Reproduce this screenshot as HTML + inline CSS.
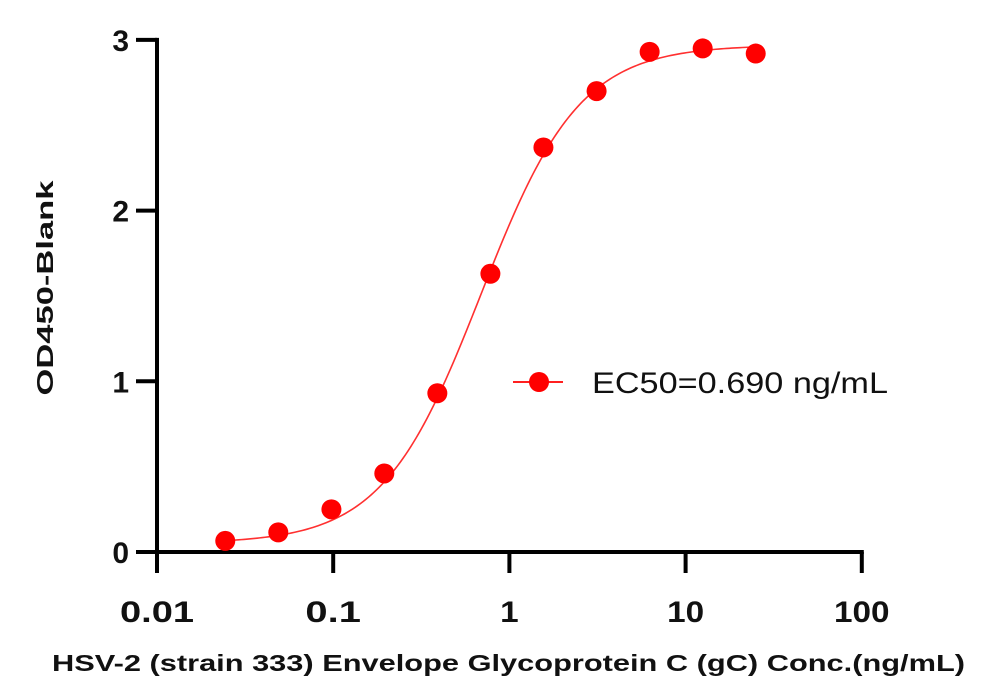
<!DOCTYPE html>
<html><head><meta charset="utf-8"><style>
html,body{margin:0;padding:0;background:#fff;}
svg{display:block;font-family:"Liberation Sans",Arial,sans-serif;}
</style></head><body>
<svg id="chart" width="1000" height="699" viewBox="0 0 1000 699">
<g id="axes"></g>
<g id="series"></g>
<g>
<line x1="513" y1="382" x2="563" y2="382" stroke="#ff2020" stroke-width="2"/>
<circle cx="539" cy="382" r="10" fill="#ff0000"/>
<text x="592" y="393" font-size="30" textLength="296" lengthAdjust="spacingAndGlyphs" fill="#111">EC50=0.690 ng/mL</text>
</g>
<text transform="translate(53,288) rotate(-90)" text-anchor="middle" font-size="23" font-weight="bold" textLength="215" lengthAdjust="spacingAndGlyphs" fill="#111">OD450-Blank</text>
<text x="52" y="671" font-size="23" font-weight="bold" textLength="913" lengthAdjust="spacingAndGlyphs" fill="#111">HSV-2 (strain 333) Envelope Glycoprotein C (gC) Conc.(ng/mL)</text>
</svg>
<script>
const concentrations=[0.0244,0.0488,0.0977,0.195,0.39,0.78,1.56,3.125,6.25,12.5,25];
const odValues=[0.065,0.115,0.25,0.46,0.93,1.63,2.37,2.70,2.93,2.95,2.92];
const xTicks=[0.01,0.1,1,10,100];
const xTickLabels=["0.01","0.1","1","10","100"];
const yTicks=[0,1,2,3];
const yTickLabels=["0","1","2","3"];
const fitBottom=0.05, fitTop=2.97, fitEC50=0.69, fitHill=1.55;

const NS="http://www.w3.org/2000/svg";
const X0=157, XD=176.2, Y0=552, YU=170.7;
function xs(v){return X0+XD*(Math.log10(v)+2);}
function ys(v){return Y0-YU*v;}
function mk(tag,attrs,parent){const e=document.createElementNS(NS,tag);for(const k in attrs)e.setAttribute(k,attrs[k]);parent.appendChild(e);return e;}
const axes=document.getElementById('axes');
let e=mk('line',{x1:136,y1:Y0,x2:xs(100)+2,y2:Y0,stroke:'#000','stroke-width':4},axes);


e=mk('line',{x1:X0,y1:ys(3)-2,x2:X0,y2:572,stroke:'#000','stroke-width':4},axes);


xTicks.forEach((t,i)=>{
  const x=xs(t);
  let l=mk('line',{x1:x,y1:Y0,x2:x,y2:573,stroke:'#000','stroke-width':4},axes);
  
  
  const w=xTickLabels[i].length*18.5;
  let tx=mk('text',{x:x,y:622,'text-anchor':'middle','font-size':30,'font-weight':'bold',fill:'#111',textLength:w,lengthAdjust:'spacingAndGlyphs'},axes);
  tx.textContent=xTickLabels[i];
  
  
});
yTicks.forEach((t,i)=>{
  const y=ys(t);
  let l=mk('line',{x1:136,y1:y,x2:X0,y2:y,stroke:'#000','stroke-width':4},axes);
  
  
  let tx=mk('text',{x:129,y:y+11,'text-anchor':'end','font-size':30,'font-weight':'bold',fill:'#111'},axes);
  tx.textContent=yTickLabels[i];
  
  
});
const series=document.getElementById('series');
let d='';
const lo=Math.log10(concentrations[0]), hi=Math.log10(concentrations[concentrations.length-1]);
for(let i=0;i<=200;i++){
  const c=Math.pow(10,lo+(hi-lo)*i/200);
  const v=fitBottom+(fitTop-fitBottom)/(1+Math.pow(fitEC50/c,fitHill));
  d+=(i?'L':'M')+xs(c).toFixed(2)+','+ys(v).toFixed(2);
}
let p=mk('path',{d:d,fill:'none',stroke:'#ff3030','stroke-width':1.6},series);


concentrations.forEach((c,i)=>{
  let pt=mk('circle',{cx:xs(c),cy:ys(odValues[i]),r:10,fill:'#ff0000'},series);
  
  
});
</script>
</body></html>
